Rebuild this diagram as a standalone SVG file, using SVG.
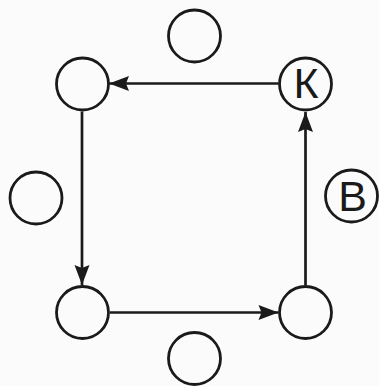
<svg xmlns="http://www.w3.org/2000/svg" width="379" height="386" viewBox="0 0 379 386">
  <style>
    .node circle { fill: none; stroke: #1a1a1a; stroke-width: 2.8; }
    .node text { font-family: "Liberation Sans", Arial, sans-serif; font-size: 43px; fill: #1a1a1a; text-anchor: middle; }
    .edge { stroke: #1a1a1a; stroke-width: 2.7; fill: none; marker-end: url(#arrow); }
  </style>
  <defs>
    <marker id="arrow" markerUnits="userSpaceOnUse" markerWidth="24" markerHeight="18" viewBox="-22 -9 24 18" refX="0" refY="0" orient="auto">
      <path d="M0,0 L-20,-7.5 L-17,0 L-20,7.5 Z" fill="#1a1a1a"/>
    </marker>
  </defs>
  <rect width="379" height="386" fill="#fbfbfb"/>
  <g id="connectors">
    <line class="edge" x1="278.5" y1="83.5" x2="109" y2="83.5"/>
    <line class="edge" x1="82" y1="111.5" x2="82" y2="285"/>
    <line class="edge" x1="110" y1="312.5" x2="278.5" y2="312.5"/>
    <line class="edge" x1="305.5" y1="285" x2="305.5" y2="112"/>
  </g>
  <g id="node-top" class="node"><circle cx="194.5" cy="36" r="26"/></g>
  <g id="node-tl" class="node"><circle cx="82.5" cy="84" r="26"/></g>
  <g id="node-k" class="node"><circle cx="305.5" cy="84" r="26"/><text x="306" y="98">К</text></g>
  <g id="node-left" class="node"><circle cx="36" cy="198" r="26"/></g>
  <g id="node-b" class="node"><circle cx="351.5" cy="196" r="26"/><text x="352.5" y="211">В</text></g>
  <g id="node-bl" class="node"><circle cx="82.5" cy="312.5" r="26"/></g>
  <g id="node-br" class="node"><circle cx="305.5" cy="312.5" r="26"/></g>
  <g id="node-bottom" class="node"><circle cx="194.5" cy="358.5" r="26"/></g>
</svg>
